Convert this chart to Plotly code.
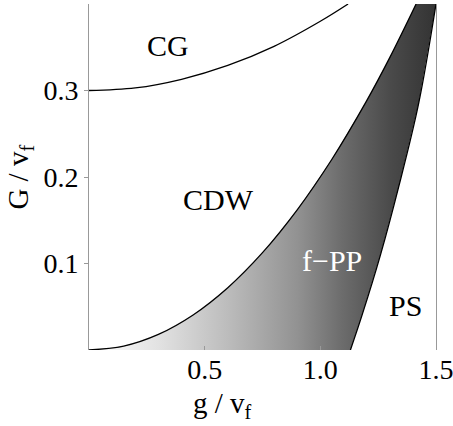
import plotly.graph_objects as go

# CG boundary (upper curve)
cg_x = [0, 0.2, 0.4, 0.6, 0.8, 1.0, 1.12]
cg_y = [0.3, 0.303, 0.313, 0.329, 0.351, 0.38, 0.4]

# CDW / f-PP boundary
cdw_x = [0, 0.15, 0.3, 0.45, 0.6, 0.75, 0.9, 1.05, 1.2, 1.3, 1.414]
cdw_y = [0, 0.0045, 0.018, 0.0405, 0.072, 0.1125, 0.162, 0.2205, 0.288, 0.338, 0.4]

# f-PP / PS boundary
ps_x = [1.13, 1.18, 1.26, 1.34, 1.425, 1.5]
ps_y = [0, 0.04, 0.11, 0.19, 0.285, 0.4]

x_ticks = [0.5, 1.0, 1.5]
x_ticklabels = ["0.5", "1.0", "1.5"]
y_ticks = [0.1, 0.2, 0.3]
y_ticklabels = ["0.1", "0.2", "0.3"]

labels = [("CG", 0.34, 0.352, "black"), ("CDW", 0.56, 0.174, "black"),
          ("f\u2212PP", 1.05, 0.104, "white"), ("PS", 1.37, 0.052, "black")]

FONT = "Liberation Serif"

fig = go.Figure()

# shaded region (f-PP)
fx = cdw_x + ps_x[::-1] + [0]
fy = cdw_y + ps_y[::-1] + [0]
fig.add_trace(go.Scatter(
    x=fx, y=fy, mode="lines", fill="toself", line=dict(width=0),
    fillgradient=dict(type="horizontal",
                      colorscale=[[0, "#ffffff"], [0.2, "#e2e2e2"], [0.4, "#bcbcbc"],
                                  [0.6, "#929292"], [0.73, "#6c6c6c"], [0.87, "#4a4a4a"],
                                  [1, "#333333"]]),
    hoverinfo="skip", showlegend=False))

for xs, ys in [(cg_x, cg_y), (cdw_x, cdw_y), (ps_x, ps_y)]:
    fig.add_trace(go.Scatter(x=xs, y=ys, mode="lines", line=dict(color="black", width=1.3, shape="spline"),
                             showlegend=False, hoverinfo="skip"))

for txt, x, y, c in labels:
    fig.add_annotation(x=x, y=y, text=txt, showarrow=False,
                       font=dict(family=FONT, size=30, color=c))

fig.add_annotation(xref="paper", yref="paper", x=0.385, y=-0.16, text="g / v<sub>f</sub>",
                   showarrow=False, font=dict(family=FONT, size=29, color="black"), yanchor="middle")
fig.add_annotation(xref="paper", yref="paper", x=-0.2, y=0.5, text="G / v<sub>f</sub>", textangle=-90,
                   showarrow=False, font=dict(family=FONT, size=29, color="black"), xanchor="center")

fig.update_xaxes(range=[0, 1.5], tickvals=x_ticks, ticktext=x_ticklabels, showgrid=False, zeroline=False,
                 showline=False, ticks="inside", ticklen=4, tickcolor="#999999", automargin=False,
                 ticklabeloverflow="allow",
                 tickfont=dict(family=FONT, size=28, color="black"))
fig.update_yaxes(range=[0, 0.4], tickvals=y_ticks, ticktext=y_ticklabels, showgrid=False, zeroline=False,
                 showline=True, linecolor="#999999", linewidth=1, mirror=True, automargin=False,
                 ticks="outside", ticklen=4, tickcolor="#999999", ticklabeloverflow="allow",
                 tickfont=dict(family=FONT, size=28, color="black"))

fig.update_layout(width=453, height=426, margin=dict(l=89, r=17, t=4, b=76),
                  plot_bgcolor="white", paper_bgcolor="white")

fig.write_html("out.html", post_script="document.body.style.margin='0';",
               config={"displayModeBar": False})
